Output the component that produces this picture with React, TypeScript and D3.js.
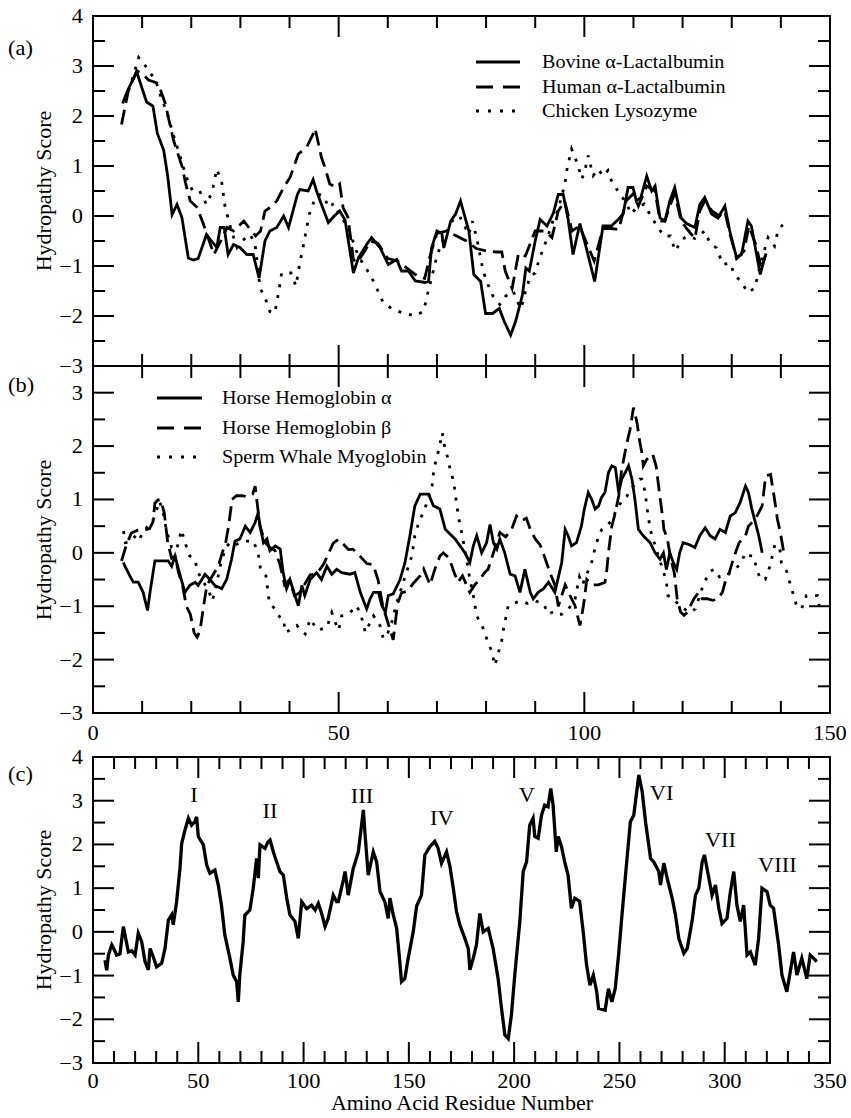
import React from "react";
import * as d3 from "d3";

type P = [number, number];

// ---------- Panel (a) ----------
const bovineLact: P[] = [[6,2.25],[7,2.5],[8.9,2.88],[10,2.55],[10.9,2.28],[12.2,2.2],[13.1,1.65],[14.4,1.31],[15.2,0.8],[16.1,0.03],[17.1,0.23],[18.1,-0.03],[19.4,-0.84],[20.4,-0.88],[21.4,-0.85],[23.1,-0.37],[24.1,-0.5],[25.2,-0.63],[25.9,-0.23],[26.7,-0.23],[27.5,-0.77],[28.6,-0.57],[29.9,-0.63],[31.3,-0.77],[32.6,-0.77],[33.8,-1.24],[35,-0.5],[36,-0.3],[37.4,-0.23],[38.8,0],[39.8,-0.23],[41.6,0.43],[42.1,0.53],[43.8,0.5],[44.8,0.73],[45.5,0.5],[46.5,0.23],[47.9,-0.13],[49.1,0],[50.2,0.1],[51.3,-0.08],[53,-1.14],[54,-0.84],[55.7,-0.57],[56.7,-0.43],[58.4,-0.63],[60.1,-0.97],[61.8,-0.87],[62.8,-1.1],[64.2,-1.1],[65.6,-1.3],[67.6,-1.33],[68.3,-1.31],[68.9,-0.64],[70,-0.3],[71,-0.35],[71.4,-0.64],[72.8,-0.1],[73.8,0.04],[74.8,0.3],[75.5,0.05],[76.5,-0.3],[77.5,-1.17],[78.9,-1.31],[79.9,-1.95],[81.3,-1.95],[82.7,-1.85],[83.7,-2.11],[85,-2.38],[86,-2.11],[87.4,-1.58],[88.1,-1.04],[88.8,-1.1],[90,-0.5],[91,-0.07],[92.4,-0.2],[93.7,0.06],[94.7,0.43],[95.7,0.43],[96.7,-0.07],[97.7,-0.77],[99.1,-0.15],[100.4,-0.64],[102.1,-1.31],[103.8,-0.2],[105.5,-0.2],[106.9,-0.07],[107.9,0.04],[108.9,0.57],[109.9,0.57],[110.6,0.3],[111.5,0.37],[112.7,0.8],[113.7,0.5],[114.4,0.6],[115.4,-0.04],[116.4,-0.1],[117.4,0.3],[118.4,0.57],[119.7,-0.04],[120.8,-0.15],[122.5,-0.23],[123.5,0.23],[124.5,0.37],[125.9,0.04],[127.2,-0.04],[128.6,0.2],[129.6,-0.3],[131,-0.84],[132,-0.77],[133.3,-0.1],[134,-0.2],[135.8,-1.17],[136.8,-0.8]];

const humanLact: P[] = [[5.8,1.83],[7.2,2.51],[8.9,2.9],[10,2.85],[11.3,2.72],[13.3,2.65],[14.7,2.25],[16.4,1.51],[18.2,0.97],[18.8,0.67],[19.8,0.3],[21.2,0.17],[22.5,-0.17],[23.2,-0.37],[24.6,-0.77],[26,-0.5],[27.3,-0.23],[28.6,-0.3],[30.7,-0.1],[31.7,-0.23],[33.1,-0.4],[34.1,-0.3],[35,0.1],[36,0.17],[37.4,0.3],[38.8,0.57],[40.1,0.77],[41.8,1.24],[43.5,1.38],[44.8,1.64],[45.2,1.75],[45.9,1.44],[46.5,1.17],[47.2,0.97],[48.2,0.64],[49.5,0.57],[50.2,0.64],[50.9,0.17],[51.9,-0.03],[53,-0.87],[53.6,-0.94],[55,-0.75],[56.5,-0.5],[58,-0.55],[60,-0.85],[62,-0.9],[64,-1.05],[66,-1.2],[67.5,-1.25],[68.6,-0.8],[70,-0.35],[72,-0.3],[74,-0.4],[76,-0.5],[78,-0.65],[80,-0.7],[82,-0.72],[83.2,-0.72],[83.9,-1.1],[85.3,-1.45],[86.6,-0.75],[88,-0.8],[90,-0.3],[92,-0.3],[93.4,-0.43],[94.7,0.1],[96,0.3],[97.5,-0.3],[99,-0.2],[100.5,-0.55],[102,-0.9],[103.8,-0.25],[105.5,-0.25],[107,-0.27],[108.5,0.3],[110,0.45],[111,0.2],[112.7,0.6],[114.4,0.5],[115.4,-0.1],[116.4,-0.1],[117.4,0.2],[118.4,0.45],[119.7,-0.1],[120.8,-0.25],[122.5,-0.45],[123.5,0.1],[124.5,0.3],[126,0.1],[127.5,0],[128.6,0.1],[129.6,-0.35],[131,-0.85],[132.5,-0.7],[133.5,-0.2],[135,-0.6],[136,-1.05],[137,-0.75]];

const chickenLys: P[] = [[6.5,2.3],[8.2,2.8],[9.3,3.17],[10.7,3.0],[12.8,2.7],[14.1,2.3],[15,2.1],[16.1,1.7],[17.4,1.3],[18.4,0.97],[19.3,0.7],[20.3,0.5],[21.7,0.5],[23.1,0.23],[24.3,0.5],[25.2,0.94],[26.2,0.67],[26.9,0.17],[27.6,-0.08],[28.2,-0.3],[29.3,-0.63],[30.3,-0.5],[32,-0.37],[33,-0.57],[34,-1.44],[35,-1.63],[36,-1.91],[37,-1.94],[37.7,-1.57],[38.4,-1.14],[40.3,-1.14],[41.3,-1.4],[42,-1.0],[43,-0.5],[44,0.03],[45,0.3],[46,0.43],[47,0.4],[47.9,0.17],[49,0.25],[50.2,0.03],[51.9,-0.23],[53.6,-0.7],[55,-0.97],[56.4,-1.17],[57.4,-1.37],[59.1,-1.74],[61.1,-1.87],[63.1,-1.94],[65.6,-2.0],[67.3,-1.9],[68,-1.6],[69,-1.2],[70,-0.8],[71.5,-0.4],[73.3,-0.07],[74.6,0],[76.5,-0.37],[77.2,-0.1],[78.1,-0.44],[79.4,-1.1],[80.4,-1.37],[81.4,-1.6],[82.8,-1.77],[84,-1.6],[85.5,-1.5],[87,-1.85],[87.7,-1.68],[88,-1.51],[89,-1.2],[90,-1.14],[90.7,-0.9],[91.7,-0.64],[92.7,-0.37],[93.7,-0.07],[94.7,0.13],[96.1,0.67],[96.4,0.9],[97.4,1.34],[98.5,1.07],[99.5,0.74],[100.2,0.95],[100.8,1.21],[101.3,1.0],[101.8,0.81],[102.8,0.94],[103.8,0.8],[104.8,0.91],[105.5,0.71],[107.2,0.44],[108.5,0.27],[109.5,0.04],[110.5,0.15],[112.2,0.24],[113.5,0],[114.8,-0.2],[116.2,-0.4],[117.5,-0.4],[118.5,-0.7],[119.9,-0.47],[121,-0.4],[122.5,-0.45],[124.5,-0.3],[125.5,-0.53],[126.9,-0.64],[128.2,-0.97],[129.6,-0.94],[130.6,-1.17],[132,-1.33],[133.3,-1.53],[134.7,-1.44],[136,-0.9],[137.4,-0.43],[138.7,-0.6],[139.4,-0.3],[140.7,-0.13]];

// ---------- Panel (b) ----------
const horseHbA: P[] = [[6.2,-0.18],[6.5,-0.25],[7.5,-0.43],[8.2,-0.55],[9.2,-0.55],[10.2,-0.74],[11.1,-1.08],[11.6,-0.74],[12.6,-0.15],[14,-0.15],[15.3,-0.15],[16,-0.25],[16.7,-0.06],[17.4,-0.31],[18.7,-0.74],[19.7,-0.61],[20.8,-0.55],[21.4,-0.61],[22.8,-0.4],[23.8,-0.5],[24.8,-0.61],[26.2,-0.67],[27.2,-0.5],[28.2,-0.12],[28.9,0.22],[29.9,0.26],[31,0.5],[32,0.38],[33,0.57],[33.6,0.75],[34,0.5],[34.7,0.19],[35.4,0.26],[36,0.04],[37.1,0.13],[38.1,0.07],[38.7,-0.37],[39.4,-0.67],[40.1,-0.5],[41.1,-0.8],[41.8,-0.99],[42.5,-0.61],[43.1,-0.8],[44.2,-0.5],[45.5,-0.37],[46.5,-0.5],[47.6,-0.25],[48.6,-0.4],[49.6,-0.31],[50.6,-0.37],[52.3,-0.4],[53.3,-0.37],[54.4,-0.74],[55.7,-1.05],[56.4,-0.86],[57.1,-0.74],[58.1,-0.74],[58.8,-0.99],[59.5,-1.11],[60.1,-0.8],[61.1,-0.77],[62.5,-0.5],[63.5,-0.18],[64.5,0.32],[65.5,0.88],[66.6,1.1],[68.3,1.1],[69.3,0.88],[70.6,0.82],[71.7,0.44],[72.7,0.35],[73.7,0.26],[74.7,0.13],[75.7,0],[76.7,-0.18],[77.4,0.13],[78.1,0.32],[79.1,0],[80.1,0.19],[80.8,0.53],[81.5,0.19],[82.2,0.07],[82.8,0.26],[83.8,0],[84.9,-0.4],[85.9,-0.43],[86.9,-0.74],[87.9,-0.31],[89,-0.74],[89.6,-0.86],[90.6,-0.74],[91.7,-0.67],[92.7,-0.55],[94,-0.74],[95.4,-0.18],[96.1,0.44],[96.7,0.32],[97.4,0.13],[98.4,0.19],[99.4,0.5],[100,0.82],[100.8,1.13],[101.5,1.0],[102.2,0.82],[102.9,0.88],[103.5,1.04],[104.2,1.13],[104.9,1.5],[105.6,1.63],[106.3,1.6],[107,1.13],[107.6,1.38],[108.3,1.5],[109,1.63],[109.7,1.38],[110.3,1.0],[111,0.44],[112,0.32],[113.4,0.19],[114.4,0],[115.4,-0.12],[116.1,0],[116.7,-0.31],[117.4,0],[118.1,-0.18],[118.8,-0.31],[119.4,0],[120.1,0.19],[121.2,0.16],[122.5,0.1],[123.5,0.32],[124.6,0.47],[125.6,0.32],[126.6,0.26],[127.6,0.44],[128.7,0.38],[129.7,0.69],[130.7,0.75],[131.7,0.94],[132.8,1.25],[133.4,1.13],[134.1,0.82],[134.8,0.57],[135.5,0.32],[136.2,0]];

const horseHbB: P[] = [[5.8,-0.15],[6.8,0.15],[7.8,0.37],[9,0.42],[10.3,0.43],[11.5,0.45],[12.2,0.58],[12.6,0.93],[13.2,0.99],[13.8,0.99],[14.5,0.75],[15.2,0.2],[16,-0.1],[16.7,-0.06],[17.4,-0.37],[18.2,-0.6],[19,-1.0],[19.8,-1.15],[20.6,-1.5],[21.2,-1.58],[21.8,-1.45],[22.5,-1.0],[23.2,-0.6],[24.5,-0.4],[25.5,-0.25],[26.3,0],[27,0.19],[27.6,0.5],[28.3,1.0],[29.2,1.07],[30.3,1.07],[31.5,1.05],[32.5,1.1],[33,1.25],[33.4,0.94],[34,0.5],[35,0.2],[36,0.1],[37,0.05],[38,-0.2],[39,-0.6],[40,-0.5],[41,-0.8],[42,-0.75],[43,-0.6],[44.2,-0.41],[45.2,-0.4],[46.2,-0.31],[47,-0.2],[48,0],[48.9,0.18],[49.9,0.25],[50.6,0.2],[52,0.06],[52.9,0.07],[54.4,-0.07],[55.7,-0.2],[57,-0.22],[58,-0.5],[59,-1.0],[60,-1.3],[61.1,-1.63],[62,-0.95],[62.8,-0.75],[63.9,-0.72],[65.2,-0.57],[66.6,-0.43],[67.3,-0.3],[68.6,-0.6],[69.6,-0.3],[70.6,-0.06],[71.3,0],[72.5,-0.1],[73.5,-0.37],[74.3,-0.55],[75.2,-0.43],[76,-0.6],[76.7,-0.74],[77.7,-0.6],[78.7,-0.5],[79.7,-0.37],[80.4,-0.31],[81.5,0],[82.8,0.38],[84,0.3],[85.2,0.44],[86.2,0.69],[87.2,0.6],[88.2,0.65],[89,0.44],[90,0.26],[91,0.15],[92,-0.1],[93,-0.37],[94,-0.6],[94.7,-1.0],[96.1,-0.6],[97.1,-0.8],[98.1,-0.99],[99.1,-1.36],[99.8,-1.0],[100.1,-0.8],[100.5,-0.5],[101.5,-0.6],[102.9,-0.6],[104.2,-0.55],[104.6,-0.3],[104.9,0],[105.6,0.5],[106.3,0.75],[107,1.07],[107.6,1.56],[108,1.75],[108.6,2.03],[109.3,2.31],[110,2.72],[110.7,2.45],[111.3,2.07],[111.7,1.88],[112,1.63],[112.7,1.75],[113.9,1.85],[114.6,1.63],[115.2,1.19],[115.9,0.69],[116.2,0.44],[116.9,0.26],[117.6,-0.12],[118.3,-0.37],[118.9,-0.86],[119.6,-1.11],[120.3,-1.17],[121,-1.11],[121.6,-0.99],[122.3,-0.86],[123.3,-0.74],[124,-0.86],[125,-0.86],[126.1,-0.89],[127.1,-0.87],[128.1,-0.74],[128.8,-0.5],[129.5,-0.37],[130.5,-0.06],[131.5,0.19],[132.8,0.32],[133.4,0.5],[134.8,0.63],[136.2,0.88],[136.9,1.44],[137.9,1.47],[138.6,1.07],[139.3,0.63],[139.9,0.38],[140.6,0]];

const whaleMb: P[] = [[6.2,0.41],[6.6,0.19],[7.5,0.2],[8.5,0.3],[9.3,0.22],[10.2,0.4],[11.2,0.5],[12.2,0.6],[13,0.82],[13.5,0.97],[14.2,0.8],[15,0.4],[16,0.1],[17,0.05],[18,0.43],[18.7,0.2],[19.7,-0.06],[20.7,-0.12],[21.4,-0.37],[22.5,-0.55],[23.5,-0.7],[24.3,-0.9],[25.1,-0.6],[26,-0.2],[27,0.1],[28,0.2],[29,0.15],[30,0.2],[31,0.22],[32.7,0.22],[33.7,-0.06],[34.1,-0.31],[35.2,-0.43],[35.9,-0.93],[37,-1.05],[38,-1.2],[38.8,-1.24],[39.1,-1.49],[40,-1.45],[40.8,-1.4],[41.5,-1.36],[42.3,-1.45],[43.2,-1.52],[44.2,-1.24],[45,-1.35],[45.9,-1.45],[46.8,-1.42],[47.6,-1.4],[48.6,-1.12],[49.3,-1.3],[50,-1.45],[50.6,-1.18],[52.3,-1.12],[53.7,-0.99],[55,-1.3],[55.4,-1.49],[57.1,-1.18],[58.4,-1.36],[59.1,-1.61],[60,-1.5],[60.8,-1.3],[61.6,-1.0],[62.5,-0.74],[63.5,-0.45],[64.9,-0.06],[65.5,0.32],[66.3,0.57],[67.2,0.75],[68,0.95],[69,1.25],[69.3,1.5],[69.7,1.69],[70.4,1.94],[71.1,2.25],[71.4,2.06],[72.1,1.81],[72.7,1.56],[73.4,1.34],[73.7,1.13],[74.4,0.66],[75.2,0.3],[76,-0.1],[76.7,-0.49],[77.4,-0.8],[78.1,-1.18],[79.5,-1.43],[80.4,-1.68],[81.1,-1.83],[81.8,-2.11],[82.5,-1.86],[83.1,-1.7],[83.5,-1.45],[84.5,-0.99],[85.5,-0.95],[87,-0.9],[88.5,-0.95],[90,-0.9],[91.7,-0.95],[92.7,-1.15],[93.8,-1.1],[94.5,-1.15],[95.4,-1.15],[96.8,-1.05],[98.1,-0.87],[99,-0.45],[99.6,-0.6],[100.5,-0.4],[101.8,-0.1],[102.2,0.13],[103.5,0.43],[104.5,0.5],[105.5,0.6],[106.5,0.8],[107.5,0.95],[108.6,1.05],[109.5,1.2],[110.5,1.3],[111.3,1.38],[111.7,1.38],[112.4,1.13],[112.7,0.88],[113.1,0.63],[113.4,0.44],[114.2,0.2],[115.2,-0.1],[116.1,-0.35],[116.7,-0.55],[117,-0.8],[118,-0.85],[119.5,-1.0],[121.5,-1.12],[122.6,-1.05],[123.7,-0.74],[124.4,-0.55],[125.7,-0.34],[126.5,-0.31],[127.5,-0.45],[128.8,-0.43],[130,-0.35],[131.7,-0.22],[132.8,0],[133.5,-0.05],[134.4,-0.06],[135.1,-0.3],[135.8,-0.49],[136.8,-0.5],[137.4,-0.37],[138.1,-0.12],[138.8,0.16],[139.8,0.07],[140.1,-0.18],[141.2,-0.35],[141.8,-0.55],[142.5,-0.77],[143.2,-0.99],[144.2,-1.05],[145.2,-0.8],[146.3,-0.8],[147.5,-0.8],[147.8,-0.99]];

// ---------- Panel (c) ----------
const panelC: P[] = [[5.7,-0.65],[6.5,-0.88],[7.3,-0.53],[8.9,-0.3],[10,-0.4],[11.2,-0.53],[12.8,-0.5],[14.4,0.12],[15.2,-0.07],[16.8,-0.46],[18.4,-0.43],[20,-0.53],[21.5,-0.03],[23.1,-0.22],[24.7,-0.68],[26.3,-0.87],[27.1,-0.38],[28.6,-0.57],[30.2,-0.8],[32.6,-0.72],[34.2,-0.38],[35.8,0.27],[37.4,0.39],[38.1,0.16],[39.7,0.69],[41.3,1.45],[42.1,2.02],[43.7,2.33],[45.3,2.6],[46.8,2.44],[48.4,2.52],[49.2,2.63],[50,2.18],[52.4,1.99],[54,1.53],[55.5,1.34],[57.9,1.41],[59.5,1.07],[61,0.61],[62.6,-0.07],[65,-0.6],[66.6,-0.99],[68.2,-1.14],[69,-1.6],[69.7,-0.99],[71.3,-0.23],[72.1,0.38],[74.5,0.5],[76.1,1.0],[77.7,1.68],[78.5,1.23],[79.3,1.99],[81.7,1.91],[83,2.05],[84.1,2.1],[85.6,1.84],[87.2,1.6],[88.8,1.38],[90.4,1.3],[92,0.77],[93.5,0.39],[95.9,0.24],[97.5,-0.15],[99.1,0.69],[101.5,0.53],[103.8,0.61],[105.5,0.5],[107,0.65],[108.6,0.42],[110.2,0.12],[111.7,0.31],[114.1,0.84],[115.7,0.69],[116.5,0.69],[118.9,1.19],[119.7,1.38],[121.2,0.84],[123.6,1.45],[126,1.83],[128.4,2.79],[129.1,2.29],[130.7,1.3],[133.1,1.83],[134.7,1.6],[136.3,0.92],[138.6,0.69],[140.2,0.31],[141,0.77],[142.6,0.39],[144.2,0.08],[145.7,-0.68],[146.5,-1.14],[148.1,-1.07],[149.7,-0.6],[152.1,0.01],[153.7,0.59],[156,0.84],[157.6,1.76],[160,1.95],[162.3,2.07],[163.9,1.91],[165.5,1.57],[167.9,1.83],[169.5,1.5],[171.1,1.0],[172.6,0.47],[174.2,0.16],[176.6,-0.15],[178.2,-0.38],[179,-0.87],[180.6,-0.6],[182.1,-0.3],[183.7,0.42],[185.3,0],[187.7,0.08],[190,-0.38],[192.4,-1.07],[194,-1.75],[195.6,-2.36],[197.2,-2.44],[198.7,-1.9],[200.3,-0.99],[202.7,0.24],[204.3,1.38],[205.9,1.6],[207.4,2.44],[209,2.6],[209.8,2.18],[211.4,2.14],[213,2.67],[214.5,2.9],[216.1,2.86],[217.4,3.28],[218.5,2.9],[220,1.83],[220.9,2.18],[222.5,1.95],[224,1.6],[225.6,1.3],[227.2,0.54],[228.8,0.77],[231.1,0.7],[232.8,0],[234.4,-0.76],[236,-1.22],[237.6,-0.99],[239.2,-1.37],[240.1,-1.75],[243.2,-1.79],[244.8,-1.3],[246.4,-1.6],[248,-1.3],[249.6,-0.53],[251.2,0.38],[253.6,1.68],[255.2,2.52],[256.8,2.67],[258.4,3.28],[259.2,3.59],[260.8,3.21],[262.4,2.52],[264.8,1.68],[266.3,1.6],[268.7,1.38],[269.5,1.07],[271.1,1.57],[272.7,1.22],[275.1,0.76],[276.6,0.39],[278.2,-0.15],[280.6,-0.49],[282.2,-0.38],[284.5,0.24],[286.1,0.84],[287.7,1.0],[289.3,1.6],[290.4,1.76],[291.6,1.45],[294,0.84],[295.6,1.07],[297.2,0.54],[298.7,0.19],[301.1,0.31],[302.7,0.92],[304.3,1.38],[305.8,0.61],[307.4,0.24],[309,0.61],[310.6,-0.53],[312.2,-0.46],[314.5,-0.76],[316.1,-0.15],[317.7,1.0],[320.1,0.92],[321.6,0.61],[323.2,0.54],[325.6,-0.3],[327.2,-0.99],[329.5,-1.37],[331.1,-0.92],[332.7,-0.46],[334.3,-0.99],[336.6,-0.6],[339,-1.07],[340.6,-0.53],[342.2,-0.6],[343.7,-0.68]];

const domainLabels = ["I", "II", "III", "IV", "V", "VI", "VII", "VIII"];
const domainLabelAt: P[] = [[48, 2.97], [84, 2.6], [127.7, 2.95], [165.7, 2.44], [206, 2.97], [270, 3.02], [298, 1.94], [325, 1.38]];

const legendA = ["Bovine \u03b1-Lactalbumin", "Human \u03b1-Lactalbumin", "Chicken Lysozyme"];
const legendB = ["Horse Hemoglobin \u03b1", "Horse Hemoglobin \u03b2", "Sperm Whale Myoglobin"];
const panelTags = ["(a)", "(b)", "(c)"];
const yTitle = "Hydropathy Score";
const xTitle = "Amino Acid Residue Number";

const FONT = "'Liberation Serif', 'Times New Roman', serif";
const LW = 2.8;
const DASH = "15,7";
const DOT = "3,8";
const styles = [undefined, DASH, DOT];

function T(props: { x: number; y: number; size?: number; anchor?: string; rot?: number; sx?: number; children: any }) {
  const { x, y, size = 20, anchor = "start", rot = 0, sx = 1.12, children } = props;
  return (
    <text
      transform={`translate(${x},${y})${rot ? ` rotate(${rot})` : ""} scale(${sx},1)`}
      fontFamily={FONT}
      fontSize={size}
      textAnchor={anchor as any}
      fill="#000"
    >
      {children}
    </text>
  );
}

const fmt = (v: number) => (v < 0 ? "\u2212" + Math.abs(v) : String(v));

function Frame(props: {
  x: d3.ScaleLinear<number, number>;
  y: d3.ScaleLinear<number, number>;
  xStep: number;
  xMajor: number;
  yMin: number;
  yMax: number;
  xLabels: boolean;
  labelY: number;
}) {
  const { x, y, xStep, xMajor, yMin, yMax, xLabels, labelY } = props;
  const [x0, x1] = x.range();
  const [yb, yt] = y.range();
  const [d0, d1] = x.domain();
  const xt = d3.range(d0, d1 + 0.001, xStep);
  const yt2 = d3.range(yMin * 2, yMax * 2 + 1).map((v) => v / 2);
  const maj = 21, min = 12;
  return (
    <g>
      <rect x={x0} y={yt} width={x1 - x0} height={yb - yt} fill="none" stroke="#000" strokeWidth={2} />
      {xt.map((v) => {
        const L = Math.abs(v % xMajor) < 1e-6 ? maj : min;
        const px = x(v);
        return (
          <g key={"x" + v}>
            <line x1={px} x2={px} y1={yb} y2={yb - L} stroke="#000" strokeWidth={2} />
            <line x1={px} x2={px} y1={yt} y2={yt + L} stroke="#000" strokeWidth={2} />
          </g>
        );
      })}
      {yt2.map((v) => {
        const L = Number.isInteger(v) ? maj : min;
        const py = y(v);
        return (
          <g key={"y" + v}>
            <line x1={x0} x2={x0 + L} y1={py} y2={py} stroke="#000" strokeWidth={2} />
            <line x1={x1} x2={x1 - L} y1={py} y2={py} stroke="#000" strokeWidth={2} />
          </g>
        );
      })}
      {yt2.filter((v) => Number.isInteger(v)).map((v) => (
        <T key={"yl" + v} x={83} y={y(v) + 7} anchor="end">{fmt(v)}</T>
      ))}
      {xLabels &&
        xt.filter((v) => Math.abs(v % xMajor) < 1e-6).map((v) => (
          <T key={"xl" + v} x={x(v)} y={labelY} anchor="middle">{String(v)}</T>
        ))}
    </g>
  );
}

export default function App() {
  const xAB = d3.scaleLinear().domain([0, 150]).range([93, 830]);
  const xC = d3.scaleLinear().domain([0, 350]).range([93, 830]);
  const yA = d3.scaleLinear().domain([-3, 4]).range([366, 16]);
  const yB = d3.scaleLinear().domain([-3, 3.5]).range([713, 366]);
  const yC = d3.scaleLinear().domain([-3, 4]).range([1063, 757]);

  const mk = (xs: d3.ScaleLinear<number, number>, ys: d3.ScaleLinear<number, number>) =>
    d3.line<P>().x((d) => xs(d[0])).y((d) => ys(d[1]));

  const lineA = mk(xAB, yA);
  const lineB = mk(xAB, yB);
  const lineC = mk(xC, yC);

  const seriesA = [bovineLact, humanLact, chickenLys];
  const seriesB = [horseHbA, horseHbB, whaleMb];

  const legendRowsA = [62, 87, 111];
  const legendRowsB = [398, 428, 457];

  return (
    <svg width={851} height={1118} style={{ position: "absolute", left: 0, top: 0, background: "#fff" }}>
      <rect x={0} y={0} width={851} height={1118} fill="#fff" />
      {/* Panel a */}
      <Frame x={xAB} y={yA} xStep={10} xMajor={50} yMin={-3} yMax={4} xLabels={false} labelY={0} />
      {seriesA.map((s, i) => (
        <path key={"a" + i} d={lineA(s) || ""} fill="none" stroke="#000" strokeWidth={LW} strokeDasharray={styles[i]} />
      ))}
      {legendA.map((t, i) => (
        <g key={"la" + i}>
          <line x1={476} x2={520} y1={legendRowsA[i]} y2={legendRowsA[i]} stroke="#000" strokeWidth={LW} strokeDasharray={i === 1 ? "17,10" : i === 2 ? "3,9" : undefined} />
          <T x={542} y={legendRowsA[i] + 6} size={18}>{t}</T>
        </g>
      ))}
      {/* Panel b */}
      <Frame x={xAB} y={yB} xStep={10} xMajor={50} yMin={-3} yMax={3} xLabels={true} labelY={740} />
      {seriesB.map((s, i) => (
        <path key={"b" + i} d={lineB(s) || ""} fill="none" stroke="#000" strokeWidth={LW} strokeDasharray={styles[i]} />
      ))}
      {legendB.map((t, i) => (
        <g key={"lb" + i}>
          <line x1={157} x2={202} y1={legendRowsB[i]} y2={legendRowsB[i]} stroke="#000" strokeWidth={LW} strokeDasharray={i === 1 ? "17,10" : i === 2 ? "3,9" : undefined} />
          <T x={222} y={legendRowsB[i] + 6} size={18}>{t}</T>
        </g>
      ))}
      {/* Panel c */}
      <Frame x={xC} y={yC} xStep={10} xMajor={50} yMin={-3} yMax={4} xLabels={true} labelY={1088} />
      <path d={lineC(panelC) || ""} fill="none" stroke="#000" strokeWidth={3.3} />
      {domainLabels.map((t, i) => (
        <T key={"d" + i} x={xC(domainLabelAt[i][0])} y={yC(domainLabelAt[i][1])} anchor="middle">{t}</T>
      ))}
      {/* Panel tags & titles */}
      <T x={8} y={55}>{panelTags[0]}</T>
      <T x={8} y={392}>{panelTags[1]}</T>
      <T x={8} y={781}>{panelTags[2]}</T>
      <T x={51} y={191} rot={-90} anchor="middle" sx={1.1}>{yTitle}</T>
      <T x={51} y={540} rot={-90} anchor="middle" sx={1.1}>{yTitle}</T>
      <T x={51} y={910} rot={-90} anchor="middle" sx={1.1}>{yTitle}</T>
      <T x={462} y={1110} anchor="middle" sx={1.1}>{xTitle}</T>
    </svg>
  );
}
